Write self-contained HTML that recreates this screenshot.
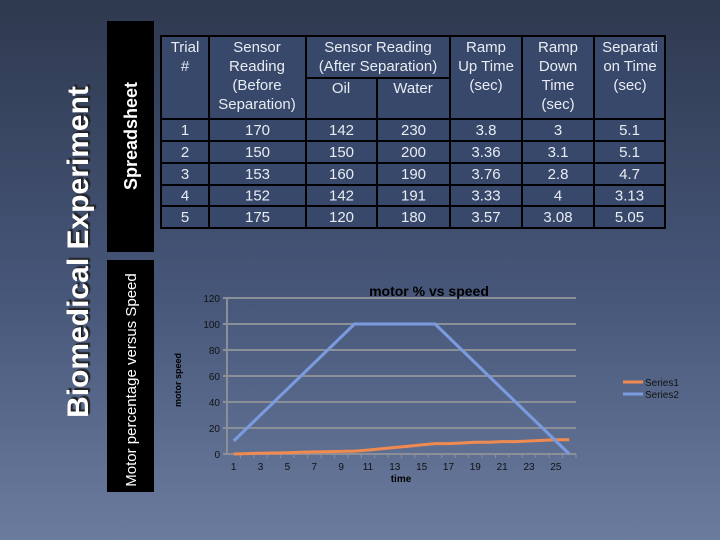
<!DOCTYPE html>
<html><head><meta charset="utf-8"><style>
html,body{margin:0;padding:0;width:720px;height:540px;overflow:hidden}
body{background:linear-gradient(#2e394f,#47577a 55%,#6b7c9e);font-family:"Liberation Sans",sans-serif}
svg{position:absolute;left:0;top:0}
</style></head><body>
<svg width="720" height="540">
<text transform="translate(88,252) rotate(-90)" text-anchor="middle" font-size="30" font-weight="bold" fill="#fff" style="text-shadow:2px 2px 1px #222">Biomedical Experiment</text>
<rect x="107" y="21" width="47" height="231" fill="#000"/>
<text transform="translate(137,136) rotate(-90)" text-anchor="middle" font-size="18" font-weight="bold" fill="#fff">Spreadsheet</text>
<rect x="107" y="260" width="47" height="232" fill="#000"/>
<text transform="translate(136,380) rotate(-90)" text-anchor="middle" font-size="15" fill="#fff">Motor percentage versus Speed</text>
<g id="table" font-size="15" fill="#e8ecf2" text-anchor="middle"></g>
<g id="chart"></g>
</svg>
<script>
const NS='http://www.w3.org/2000/svg';
function mk(p,t,a,txt){const e=document.createElementNS(NS,t);for(const k in a)e.setAttribute(k,a[k]);if(txt!==undefined)e.textContent=txt;p.appendChild(e);return e;}
// table
const tb=document.getElementById('table');
const cols=[161,209,306,377,450,522,594,665];
const rowY=[119,141,163,185,206,228];
mk(tb,'rect',{x:161,y:36,width:504,height:192,fill:'#38486a',stroke:'#000','stroke-width':2});
const ln=(x1,y1,x2,y2)=>mk(tb,'line',{x1,y1,x2,y2,stroke:'#000','stroke-width':2});
cols.slice(1,-1).forEach((x,i)=>{ if(x===377) ln(x,78,x,228); else ln(x,36,x,228);});
ln(306,78,450,78);
rowY.slice(0,-1).forEach(y=>ln(161,y,665,y));
const headers=[[185,['Trial','#']],[257,['Sensor','Reading','(Before','Separation)']],[378,['Sensor Reading','(After Separation)']],[486,['Ramp','Up Time','(sec)']],[558,['Ramp','Down','Time','(sec)']],[630,['Separati','on Time','(sec)']]];
headers.forEach(([x,ls])=>ls.forEach((s,i)=>{const t=mk(tb,'text',{x,y:52+i*19},s);}));
mk(tb,'text',{x:341,y:93},'Oil');mk(tb,'text',{x:413,y:93},'Water');
const trials=['1','2','3','4','5'];
const before=['170','150','153','152','175'];
const oil=['142','150','160','142','120'];
const water=['230','200','190','191','180'];
const rampUp=['3.8','3.36','3.76','3.33','3.57'];
const rampDown=['3','3.1','2.8','4','3.08'];
const sepTime=['5.1','5.1','4.7','3.13','5.05'];
const colsData=[trials,before,oil,water,rampUp,rampDown,sepTime];
colsData.forEach((arr,c)=>arr.forEach((v,r)=>{
 const t=mk(tb,'text',{x:(cols[c]+cols[c+1])/2,y:(rowY[r]+rowY[r+1])/2+5},v);
 
 
}));
// chart
const categories=Array.from({length:26},(_,i)=>i+1);
const series1=[0,0.3,0.6,0.8,1,1.3,1.6,1.8,2,2.2,3,4,5,6,7,8,8,8.5,9,9,9.5,9.5,10,10.5,11,11];
const series2=[10,20,30,40,50,60,70,80,90,100,100,100,100,100,100,100,90,80,70,60,50,40,30,20,10,0];
const yTicks=[0,20,40,60,80,100,120];
const ch=document.getElementById('chart');
const L=227,R=576,T=298,B=454,ymax=120;
const bw=(R-L)/categories.length;
const xs=i=>L+bw*(i+0.5), ys=v=>B-(v/ymax)*(B-T);
yTicks.forEach(v=>{
 const g=mk(ch,'line',{x1:L-4,x2:R,y1:ys(v),y2:ys(v),stroke:'#8a8f98','stroke-width':2});
 
 const t=mk(ch,'text',{x:220,y:ys(v)+4,'text-anchor':'end','font-size':10,fill:'#111'},v);
 
});
mk(ch,'line',{x1:L,x2:L,y1:T,y2:B,stroke:'#8a8f98','stroke-width':2});
categories.forEach((c,i)=>{
 mk(ch,'line',{x1:L+bw*(i+1),x2:L+bw*(i+1),y1:B,y2:B+4,stroke:'#8a8f98','stroke-width':1});
 if(i%2===0){const t=mk(ch,'text',{x:xs(i),y:B+16,'text-anchor':'middle','font-size':10,fill:'#111'},c);
 }
});
const p1=mk(ch,'polyline',{points:series1.map((v,i)=>xs(i)+','+ys(v)).join(' '),fill:'none',stroke:'#f08a50','stroke-width':3});

const p2=mk(ch,'polyline',{points:series2.map((v,i)=>xs(i)+','+ys(v)).join(' '),fill:'none',stroke:'#7b9be0','stroke-width':3});

const tt=mk(ch,'text',{x:429,y:296,'text-anchor':'middle','font-size':14,'font-weight':'bold',fill:'#000'},'motor % vs speed');

const xt=mk(ch,'text',{x:401,y:482,'text-anchor':'middle','font-size':10,'font-weight':'bold',fill:'#000'},'time');

const yt=mk(ch,'text',{transform:'translate(181,380) rotate(-90)','text-anchor':'middle','font-size':9,'font-weight':'bold',fill:'#000'},'motor speed');

[['Series1','#f08a50',382],['Series2','#7b9be0',394]].forEach(([n,c,y])=>{
 mk(ch,'line',{x1:623,x2:643,y1:y,y2:y,stroke:c,'stroke-width':3});
 const t=mk(ch,'text',{x:645,y:y+4,'font-size':10,fill:'#111'},n);
 
});
</script>
</body></html>
